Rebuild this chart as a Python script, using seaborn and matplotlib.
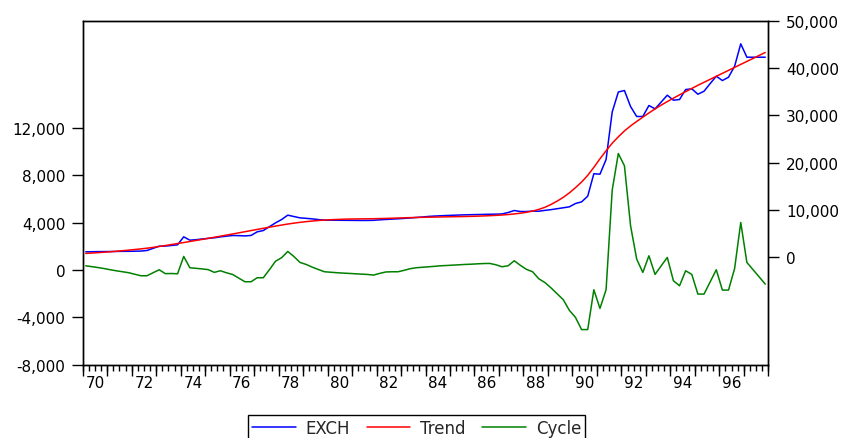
import numpy as np
import pandas as pd
import matplotlib
matplotlib.use("Agg")
import matplotlib.pyplot as plt
import seaborn as sns
from matplotlib.ticker import FixedLocator, FuncFormatter

sns.set_style("ticks")
plt.rcParams['font.family'] = ['DejaVu Sans']

# ---------------- data (quarterly, 1970Q1 - 1997Q4) ----------------
start_year = 1970

exch = [
    1140, 1160, 1180, 1190, 1200, 1220, 1240, 1250, 1270, 1300,
    1420, 1880, 2330, 2350, 2480, 2620, 4310, 3600, 3700, 3850,
    3980, 4100, 4300, 4450, 4590, 4560, 4500, 4600, 5360, 5640,
    6450, 7260, 7970, 8890, 8600, 8320, 8220, 8100, 7960, 7830,
    7820, 7810, 7800, 7790, 7780, 7770, 7770, 7800, 7900, 7980,
    8050, 8120, 8200, 8300, 8400, 8500, 8620, 8700, 8760, 8820,
    8870, 8920, 8960, 8990, 9020, 9050, 9080, 9100, 9150, 9450,
    9870, 9660, 9660, 9750, 9720, 9900, 10050, 10250, 10450, 10650,
    11350, 11700, 12900, 17650, 17550, 20650, 30700, 34930, 35240, 31850,
    29750, 29750, 32070, 31370, 32800, 34250, 33190, 33340, 35450, 35590,
    34460, 35090, 36700, 38260, 37350, 38050, 40380, 45110, 42280, 42280,
    42280, 42280,
]

trend = [
    800, 880, 965, 1055, 1150, 1255, 1370, 1495, 1625, 1760,
    1900, 2080, 2270, 2470, 2680, 2890, 3100, 3320, 3540, 3760,
    3990, 4220, 4450, 4680, 4910, 5150, 5390, 5630, 5870, 6110,
    6350, 6580, 6800, 7010, 7200, 7370, 7520, 7650, 7760, 7850,
    7920, 7980, 8030, 8065, 8090, 8105, 8120, 8140, 8165, 8200,
    8240, 8285, 8330, 8365, 8400, 8430, 8460, 8485, 8510, 8535,
    8560, 8585, 8610, 8640, 8680, 8725, 8780, 8845, 8920, 9020,
    9150, 9300, 9500, 9750, 10100, 10550, 11150, 11850, 12650, 13600,
    14700, 15900, 17300, 19000, 20800, 22500, 24100, 25450, 26700, 27750,
    28700, 29600, 30500, 31350, 32150, 32900, 33620, 34320, 35000, 35680,
    36350, 36980, 37610, 38240, 38870, 39500, 40130, 40760, 41390, 42020,
    42650, 43280,
]

cycle = [
    363, 290, 215, 130, 30, -60, -140, -220, -350, -479,
    -479, -220, 28, -300, -290, -310, 1155, 200, 150, 100,
    40, -190, -56, -230, -370, -680, -986, -986, -648, -648,
    30, 750, 1050, 1577, 1150, 648, 479, 250, 50, -141,
    -180, -220, -254, -280, -310, -340, -366, -423, -280, -160,
    -141, -141, -20, 120, 200, 240, 280, 320, 366, 390,
    420, 450, 479, 500, 530, 555, 563, 451, 282, 366,
    789, 400, 60, -141, -730, -1050, -1500, -2000, -2500, -3400,
    -4000, -5030, -5030, -1662, -3239, -1662, 6760, 9859, 8817, 3746,
    930, -197, 1211, -366, 360, 1070, -901, -1324, -56, -366,
    -2028, -2028, -1000, 28, -1690, -1690, 141, 4028, 648, 40,
    -570, -1183,
]

left_ticks = [-8000, -4000, 0, 4000, 8000, 12000]
right_ticks = [0, 10000, 20000, 30000, 40000, 50000]
year_labels = list(range(1970, 1997, 2))

n = len(exch)
t = start_year + (np.arange(n) + 0.5) / 4.0
df = pd.DataFrame({"t": t, "EXCH": exch, "Trend": trend, "Cycle": cycle})

# ---------------- figure ----------------
W, H = 842, 439
fig = plt.figure(figsize=(W / 100, H / 100), dpi=100, facecolor="white")
L, R, T, B = 82.7, 768.3, 21.7, 365.7
ax = fig.add_axes([L / W, 1 - B / H, (R - L) / W, (B - T) / H])
ax2 = ax.twinx()

lw = 1.1
sns.lineplot(data=df, x="t", y="Cycle", ax=ax, color="#008000", lw=lw, legend=False)
sns.lineplot(data=df, x="t", y="EXCH", ax=ax2, color="#0000FF", lw=lw, legend=False)
sns.lineplot(data=df, x="t", y="Trend", ax=ax2, color="#FF0000", lw=lw, legend=False)

ax.set_xlim(start_year, start_year + n / 4.0)
ax.set_ylim(-8000, 21090)
ax2.set_ylim(-22725, 50000)
ax.set_xlabel("")
ax.set_ylabel("")
ax2.set_ylabel("")
ax.grid(False)
ax2.grid(False)

fmt = FuncFormatter(lambda v, p: f"{int(round(v)):,}")
ax.yaxis.set_major_locator(FixedLocator(left_ticks))
ax.yaxis.set_major_formatter(fmt)
ax2.yaxis.set_major_locator(FixedLocator(right_ticks))
ax2.yaxis.set_major_formatter(fmt)

ax.tick_params(axis="y", which="major", direction="out", length=8, width=1,
               labelsize=11, pad=4.6, colors="black", left=True, right=False)
ax2.tick_params(axis="y", which="major", direction="out", length=8, width=1,
                labelsize=11, pad=4.8, colors="black", right=True, left=False)

# x axis: labels centred in even years, quarter minor ticks, year ticks via secondary axis
ax.xaxis.remove_overlapping_locs = False
ax.set_xticks([y + 0.5 for y in year_labels])
ax.set_xticklabels([f"{y % 100:02d}" for y in year_labels])
ax.set_xticks(start_year + np.arange(0, n + 1) / 4.0, minor=True)
ax.tick_params(axis="x", which="major", length=0, labelsize=11, pad=7.5, colors="black")
ax.tick_params(axis="x", which="minor", direction="out", length=4, width=1, colors="black", bottom=True)
sec = ax.secondary_xaxis("bottom")
sec.set_xticks(range(start_year, start_year + n // 4 + 1))
sec.tick_params(axis="x", direction="out", length=8, width=1, labelbottom=False, colors="black")
sec.spines["bottom"].set_visible(False)

for a in (ax, ax2):
    for s in a.spines.values():
        s.set_color("black")
        s.set_linewidth(1)

# legend
handles = [ax2.lines[0], ax2.lines[1], ax.lines[0]]
leg = fig.legend(handles, ["EXCH", "Trend", "Cycle"], ncol=3, loc="upper left",
                 bbox_to_anchor=(248.3 / W, 1 - 416 / H), bbox_transform=fig.transFigure,
                 frameon=True, fancybox=False, edgecolor="black", framealpha=1,
                 fontsize=12, handlelength=2.6, handletextpad=0.6, columnspacing=1.0,
                 borderpad=0.25, borderaxespad=0)
leg.get_frame().set_linewidth(1)

fig.savefig("out.png", dpi=100, facecolor="white")
